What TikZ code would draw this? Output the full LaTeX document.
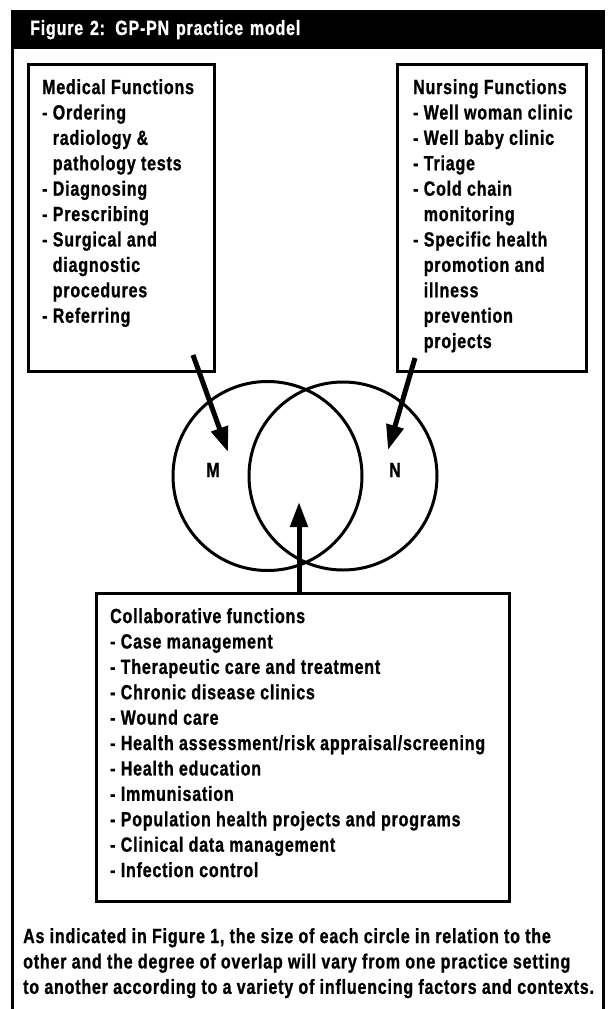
\documentclass[tikz,border=0pt]{standalone}
\usepackage{fontspec}
\newfontfamily\cond{Liberation Sans}[FakeStretch=0.78, LetterSpace=4, FakeBold=1]
\usetikzlibrary{arrows.meta,calc}
\begin{document}
\begin{tikzpicture}[x=1pt,y=-1pt,
  fnt/.style={font=\cond\bfseries\fontsize{20.5}{25.4}\selectfont},
  txt/.style={fnt, align=left, inner sep=0pt, anchor=north west},
  box/.style={draw, line width=3pt, inner sep=0pt},
  circ/.style={draw, circle, line width=3pt, inner sep=0pt},
  arr/.style={line width=5pt, -{Triangle[length=25pt,width=17pt]}}
]
\useasboundingbox (0,0) rectangle (608,1009);
% header and frame
\node[fill=black, text=white, fnt, anchor=north west, minimum height=39pt,
      text width=556pt, align=left, inner xsep=19pt, inner ysep=0pt] (hdr) at (11,10)
      {Figure 2: GP-PN practice model};
\draw[line width=3pt] (12.5,49) -- (12.5,1009);
\draw[line width=3pt] (603.5,49) -- (603.5,1009);
% medical box
\node[box, minimum width=186pt, minimum height=307pt] (med) at (121,217.5) {};
\node[txt] (medtxt) at (42,79) {Medical Functions\\
- Ordering\\
\hphantom{- }radiology \&\\
\hphantom{- }pathology tests\\
- Diagnosing\\
- Prescribing\\
- Surgical and\\
\hphantom{- }diagnostic\\
\hphantom{- }procedures\\
- Referring};
% nursing box
\node[box, minimum width=189pt, minimum height=307pt] (nur) at (491.5,217.5) {};
\node[txt] (nurtxt) at (413,79) {Nursing Functions\\
- Well woman clinic\\
- Well baby clinic\\
- Triage\\
- Cold chain\\
\hphantom{- }monitoring\\
- Specific health\\
\hphantom{- }promotion and\\
\hphantom{- }illness\\
\hphantom{- }prevention\\
\hphantom{- }projects};
% circles
\node[circ, minimum size=189pt] (L) at (267.5,476) {};
\node[circ, minimum size=188pt] (R) at (343,476) {};
\node[fnt, inner sep=0pt] (M) at (213,470) {M};
\node[fnt, inner sep=0pt] (N) at (395,470) {N};
% collaborative box
\node[box, minimum width=413pt, minimum height=308pt] (col) at (302.5,747) {};
\node[txt] (coltxt) at (110,608) {Collaborative functions\\
- Case management\\
- Therapeutic care and treatment\\
- Chronic disease clinics\\
- Wound care\\
- Health assessment/risk appraisal/screening\\
- Health education\\
- Immunisation\\
- Population health projects and programs\\
- Clinical data management\\
- Infection control};
% arrows
\coordinate (mfrom) at (193,355);
\coordinate (mto) at (228,452);
\coordinate (nfrom) at (415,358);
\coordinate (nto) at (388,450);
\coordinate (cto) at (299,502);
\draw[arr] (mfrom) -- (mto);
\draw[arr] (nfrom) -- (nto);
\draw[arr] (cto |- col.north) -- (cto);
% caption
\node[txt] (note) at (23,928) {As indicated in Figure 1, the size of each circle in relation to the\\
other and the degree of overlap will vary from one practice setting\\
to another according to a variety of influencing factors and contexts.};
\end{tikzpicture}
\end{document}
